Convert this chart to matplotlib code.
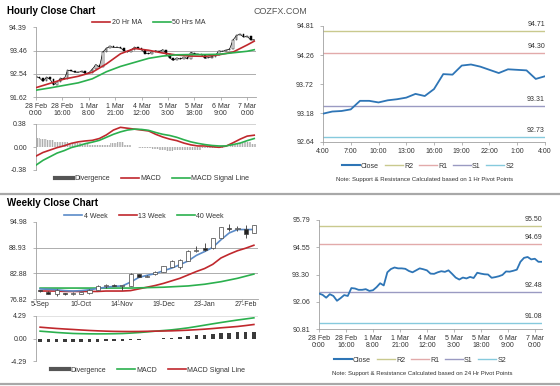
import numpy as np
import matplotlib
matplotlib.use('Agg')
import matplotlib.pyplot as plt
from matplotlib.lines import Line2D

plt.rcParams['font.family'] = ['Liberation Sans', 'DejaVu Sans']
plt.rcParams['hatch.linewidth'] = 0.5

# ---------------- data ----------------
hour_labels = ['28 Feb\n0:00', '28 Feb\n16:00', '1 Mar\n8:00', '1 Mar\n21:00', '4 Mar\n12:00',
               '5 Mar\n3:00', '5 Mar\n18:00', '6 Mar\n9:00', '7 Mar\n0:00']

# hourly closes, every 2nd bar (bar 0 .. 124)
close_bar = list(range(0, 125, 2))
close_h = [92.43, 92.37, 92.24, 92.40, 92.32, 92.10, 92.22, 92.36, 92.32, 92.68,
           92.66, 92.60, 92.60, 92.63, 92.55, 92.58, 92.72, 92.90, 92.80, 93.40,
           93.55, 93.62, 93.58, 93.58, 93.56, 93.46, 93.40, 93.49, 93.58, 93.54,
           93.49, 93.34, 93.33, 93.40, 93.45, 93.42, 93.49, 93.33, 93.16, 93.07,
           93.16, 93.12, 93.19, 93.14, 93.38, 93.34, 93.31, 93.30, 93.15, 93.18,
           93.22, 93.28, 93.44, 93.43, 93.47, 93.52, 93.88, 94.06, 94.10, 93.99,
           94.02, 93.88, 93.88]

ma_bar = [0, 8, 16, 24, 32, 40, 48, 56, 64, 72, 80, 88, 96, 104, 112, 120, 124]
ma20_h = [91.99, 92.16, 92.33, 92.44, 92.60, 92.93, 93.33, 93.54, 93.47, 93.36,
          93.28, 93.24, 93.23, 93.29, 93.40, 93.68, 93.83]
ma50_h = [91.89, 91.98, 92.08, 92.18, 92.34, 92.62, 92.83, 92.99, 93.15, 93.24,
          93.29, 93.30, 93.30, 93.31, 93.37, 93.43, 93.49]

macd_bar = list(range(0, 125, 4))
macd_h = [-0.15, -0.09, -0.05, -0.01, 0.02, 0.06, 0.085, 0.10, 0.11, 0.14,
          0.20, 0.28, 0.325, 0.31, 0.295, 0.28, 0.265, 0.21, 0.165, 0.13,
          0.105, 0.065, 0.035, 0.017, 0.017, 0.005, -0.005, 0.015, 0.07, 0.13,
          0.18, 0.195]
signal_h = [-0.30, -0.22, -0.16, -0.10, -0.06, -0.01, 0.02, 0.055, 0.08, 0.11,
            0.16, 0.21, 0.25, 0.28, 0.295, 0.29, 0.275, 0.24, 0.21, 0.19,
            0.16, 0.12, 0.085, 0.06, 0.04, 0.025, 0.017, 0.017, 0.04, 0.065,
            0.105, 0.14]

# 1 hour pivot chart
pivot_1h_ticks = ['4:00', '7:00', '10:00', '13:00', '16:00', '19:00', '22:00', '1:00', '4:00']
close_1h = [93.17, 93.21, 93.22, 93.25, 93.41, 93.41, 93.38, 93.42, 93.44, 93.47,
            93.54, 93.50, 93.63, 93.91, 93.90, 94.07, 94.09, 94.05, 93.99, 93.93,
            94.00, 93.99, 93.98, 93.82, 93.87]
level_names = ['R2', 'R1', 'S1', 'S2']
levels_1h = [94.71, 94.30, 93.31, 92.73]
levels_24h = [95.50, 94.69, 92.48, 91.08]

# weekly
week_labels = ['5-Sep', '10-Oct', '14-Nov', '19-Dec', '23-Jan', '27-Feb']
w_open = [78.9, 78.5, 77.9, 78.2, 77.9, 78.1, 78.2, 79.0, 79.9, 80.2, 79.9, 80.0, 82.7, 82.1,
          82.6, 83.2, 84.4, 84.3, 85.8, 88.2, 88.8, 88.8, 91.2, 93.6, 93.3, 93.4, 92.4]
w_close = [78.6, 78.1, 78.9, 77.9, 78.3, 78.4, 79.0, 80.0, 80.0, 80.0, 80.0, 82.8, 82.1, 82.3,
           83.3, 84.5, 85.8, 86.1, 88.2, 88.4, 88.4, 91.2, 93.7, 93.3, 93.4, 92.1, 94.2]
w_high = [79.0, 78.6, 79.2, 78.3, 78.4, 78.5, 79.1, 80.1, 80.3, 80.4, 80.2, 82.9, 82.8, 82.5,
          83.4, 84.6, 85.9, 86.2, 88.3, 89.3, 90.0, 91.3, 93.8, 94.4, 94.1, 94.2, 94.3]
w_low = [78.5, 77.9, 77.6, 77.7, 77.8, 78.0, 78.1, 78.9, 79.5, 79.9, 79.0, 79.9, 82.0, 82.0,
         82.5, 83.1, 84.3, 84.0, 85.7, 88.0, 88.2, 88.7, 91.1, 92.9, 92.8, 91.1, 92.3]
ma4_w = [79.2, 79.1, 79.0, 78.8, 78.7, 78.8, 79.0, 79.3, 79.6, 79.8, 79.9, 80.8, 81.9, 82.4,
         82.8, 83.5, 84.1, 84.9, 85.8, 87.1, 88.0, 89.0, 90.8, 92.4, 93.2, 93.2, 93.2]
ma13_w = [78.7, 78.7, 78.7, 78.6, 78.6, 78.6, 78.6, 78.6, 78.7, 78.7, 78.7, 78.8, 79.2, 79.6,
          80.0, 80.5, 81.1, 81.7, 82.5, 83.3, 84.0, 85.0, 86.5, 87.4, 88.2, 88.8, 89.5]
ma40_w = [79.4, 79.4, 79.4, 79.4, 79.4, 79.4, 79.4, 79.4, 79.4, 79.4, 79.4, 79.4, 79.45, 79.5,
          79.55, 79.6, 79.7, 79.8, 79.9, 80.1, 80.3, 80.6, 80.9, 81.3, 81.7, 82.2, 82.7]
macd_w = [1.40, 1.28, 1.15, 1.05, 0.96, 0.92, 0.89, 0.88, 0.89, 0.91, 0.95, 1.03, 1.13, 1.26,
          1.40, 1.52, 1.65, 1.83, 2.03, 2.28, 2.54, 2.80, 3.05, 3.29, 3.52, 3.73, 3.94]
signal_w = [2.16, 2.03, 1.91, 1.81, 1.72, 1.62, 1.53, 1.46, 1.40, 1.36, 1.34, 1.33, 1.34, 1.37,
            1.40, 1.43, 1.46, 1.52, 1.59, 1.68, 1.78, 1.90, 2.04, 2.16, 2.29, 2.47, 2.67]

# ---------------- styling ----------------
RED = '#c0282d'
GREEN = '#2bb04e'
BLUE = '#2e75b6'
LBLUE = '#5b8bc8'
level_colors = ['#c9c98e', '#e2aaaa', '#9a9ac2', '#86cadd']

W, H = 560, 386
fig = plt.figure(figsize=(W / 100, H / 100), dpi=100)


def px_axes(l, t, r, b):
    return fig.add_axes([l / W, 1 - b / H, (r - l) / W, (b - t) / H])


def style(ax, bottom=True):
    for s in ['top', 'right']:
        ax.spines[s].set_visible(False)
    ax.spines['left'].set_color('#a0a0a0')
    ax.spines['left'].set_linewidth(0.6)
    if bottom:
        ax.spines['bottom'].set_color('#a0a0a0')
        ax.spines['bottom'].set_linewidth(0.6)
    else:
        ax.spines['bottom'].set_visible(False)
    ax.tick_params(labelsize=5, length=2.5, width=0.5, color='#999999',
                   labelcolor='#333333', pad=1.5)
    ax.tick_params(axis='y', pad=4)


def legend(ax, handles, labels, cx, cy, spacing=1.6):
    ax.legend(handles, labels, loc='center', bbox_to_anchor=(cx / W, 1 - cy / H),
              bbox_transform=fig.transFigure, ncol=len(labels), frameon=False,
              fontsize=5, handlelength=2.6, handletextpad=0.2,
              columnspacing=spacing, borderpad=0, borderaxespad=0, labelcolor='#333333')


def fmt(v):
    return '%.2f' % v


# titles and separators
fig.text(7 / W, 1 - 11 / H, 'Hourly Close Chart', fontsize=7, fontweight='bold', va='center')
fig.text(7 / W, 1 - 203 / H, 'Weekly Close Chart', fontsize=7, fontweight='bold', va='center')
fig.text(280 / W, 1 - 11 / H, 'COZFX.COM', fontsize=6.5, color='#555555', ha='center', va='center')
for y in [193.5, 384]:
    fig.add_artist(Line2D([0, 1], [1 - y / H, 1 - y / H], color='#a8a8a8', lw=1.6,
                          transform=fig.transFigure))

# ---------- hourly price with candles ----------
ax = px_axes(36, 27, 256, 97)
style(ax)
c = np.array(close_h)
o = np.r_[c[0], c[:-1]]
up = c >= o
ax.plot(close_bar, close_h, color='black', lw=0.5, zorder=2)
ax.bar(close_bar, np.maximum(np.abs(c - o), 0.015), bottom=np.minimum(o, c), width=0.9,
       color=np.where(up, 'white', 'black'), edgecolor='black', linewidth=0.35, zorder=2)
ax.plot(ma_bar, ma20_h, color=RED, lw=1.2, zorder=3)
ax.plot(ma_bar, ma50_h, color=GREEN, lw=1.2, zorder=3)
yt = [91.62, 92.54, 93.46, 94.39]
for v in yt[1:-1]:
    ax.axhline(v, color='#a0a0a0', lw=0.6, zorder=1)
ax.set_ylim(yt[0], yt[-1])
ax.set_yticks(yt, [fmt(v) for v in yt])
ax.set_xlim(0, 125)
ax.set_xticks(range(0, 121, 15), hour_labels, linespacing=1.0)
legend(ax, [Line2D([], [], color=RED, lw=1.2), Line2D([], [], color=GREEN, lw=1.2)],
       ['20 Hr MA', '50 Hrs MA'], 149, 22.5)

# ---------- hourly MACD ----------
ax = px_axes(36, 124, 256, 170)
style(ax, bottom=False)
div_h = np.array(macd_h) - np.array(signal_h)
ax.bar(macd_bar, div_h, width=4, facecolor='none', edgecolor='#8a8a8a', linewidth=0,
       hatch='|' * 10, zorder=1)
ax.plot(macd_bar, macd_h, color=RED, lw=1.2, zorder=3)
ax.plot(macd_bar, signal_h, color=GREEN, lw=1.2, zorder=3)
for v in [-0.38, 0.38]:
    ax.axhline(v, color='#cccccc', lw=0.6, zorder=0)
ax.set_ylim(-0.38, 0.38)
ax.set_yticks([-0.38, 0, 0.38], ['-0.38', '0.00', '0.38'])
ax.set_xlim(0, 125)
ax.set_xticks([])
legend(ax, [Line2D([], [], color='#555555', lw=3), Line2D([], [], color=RED, lw=1.2),
            Line2D([], [], color=GREEN, lw=1.2)],
       ['Divergence', 'MACD', 'MACD Signal Line'], 152, 179)

# ---------- pivot chart helper ----------
def pivot(ax, x, close, levels, yticks, xticks, xlabels, xlim):
    style(ax)
    for v, col in zip(levels, level_colors):
        ax.axhline(v, color=col, lw=1.0, zorder=1)
        ax.annotate(fmt(v), xy=(1, v), xycoords=ax.get_yaxis_transform(),
                    xytext=(0, 2.5), textcoords='offset points', ha='right', va='bottom',
                    fontsize=5, color='#333333')
    ax.plot(x, close, color=BLUE, lw=1.3, zorder=3)
    ax.set_ylim(yticks[0], yticks[-1])
    ax.set_yticks(yticks, [fmt(v) for v in yticks])
    ax.set_xlim(*xlim)
    ax.set_xticks(xticks, xlabels, linespacing=1.0)
    handles = [Line2D([], [], color=BLUE, lw=1.5)] + \
              [Line2D([], [], color=col, lw=1.0) for col in level_colors]
    return handles, ['Close'] + level_names


ax = px_axes(323, 26, 545, 142)
hh, ll = pivot(ax, range(len(close_1h)), close_1h, levels_1h,
               [92.64, 93.18, 93.72, 94.26, 94.81], range(0, 25, 3), pivot_1h_ticks, (0, 24))
legend(ax, hh, ll, 428, 166, spacing=0.8)
fig.text(425 / W, 1 - 180 / H, 'Note: Support & Resistance Calculated based on 1 Hr Pivot Points',
         fontsize=4.3, ha='center', va='center', color='#333333')

ax = px_axes(319, 220, 542, 329)
hh, ll = pivot(ax, close_bar, close_h, levels_24h,
               [90.81, 92.06, 93.30, 94.55, 95.79], range(0, 121, 15), hour_labels, (0, 124))
legend(ax, hh, ll, 420, 360, spacing=0.8)
fig.text(422 / W, 1 - 374 / H, 'Note: Support & Resistance Calculated based on 24 Hr Pivot Points',
         fontsize=4.3, ha='center', va='center', color='#333333')

# ---------- weekly price ----------
ax = px_axes(36, 222, 258, 299)
style(ax)
wk = np.arange(len(w_close))
wo, wc = np.array(w_open), np.array(w_close)
ax.plot(wk, ma13_w, color=RED, lw=1.2, zorder=2)
ax.plot(wk, ma40_w, color=GREEN, lw=1.2, zorder=2)
ax.plot(wk, ma4_w, color=LBLUE, lw=1.2, zorder=2)
ax.vlines(wk, w_low, w_high, color='#333333', lw=0.6, zorder=3)
ax.bar(wk, np.maximum(np.abs(wc - wo), 0.15), bottom=np.minimum(wo, wc), width=0.5,
       color=np.where(wc >= wo, 'white', '#222222'), edgecolor='#444444', linewidth=0.5, zorder=4)
yt = [76.82, 82.88, 88.93, 94.98]
for v in yt[1:-1]:
    ax.axhline(v, color='#a0a0a0', lw=0.6, zorder=1)
ax.set_ylim(yt[0], yt[-1])
ax.set_yticks(yt, [fmt(v) for v in yt])
ax.set_xlim(-0.5, len(w_close) - 0.5)
ax.set_xticks(range(0, len(w_close), 5), week_labels)
ax.set_xticks(np.arange(-0.5, len(w_close), 5), minor=True)
ax.tick_params(axis='x', which='major', length=0)
ax.tick_params(axis='x', which='minor', length=2.5, width=0.5, color='#999999')
legend(ax, [Line2D([], [], color=LBLUE, lw=1.2), Line2D([], [], color=RED, lw=1.2),
            Line2D([], [], color=GREEN, lw=1.2)],
       ['4 Week', '13 Week', '40 Week'], 144, 216)

# ---------- weekly MACD ----------
ax = px_axes(36, 316, 258, 361)
style(ax, bottom=False)
div_w = np.array(macd_w) - np.array(signal_w)
ax.bar(wk, div_w, width=0.42, color='#3a3a3a', zorder=1)
ax.plot(wk, macd_w, color=GREEN, lw=1.2, zorder=3)
ax.plot(wk, signal_w, color=RED, lw=1.2, zorder=3)
for v in [-4.29, 4.29]:
    ax.axhline(v, color='#dddddd', lw=0.6, zorder=0)
ax.set_ylim(-4.29, 4.29)
ax.set_yticks([-4.29, 0, 4.29], ['-4.29', '0.00', '4.29'])
ax.set_xlim(-0.5, len(w_close) - 0.5)
ax.set_xticks([])
legend(ax, [Line2D([], [], color='#555555', lw=3), Line2D([], [], color=GREEN, lw=1.2),
            Line2D([], [], color=RED, lw=1.2)],
       ['Divergence', 'MACD', 'MACD Signal Line'], 148, 370)

fig.savefig('out.png', dpi=100, facecolor='white')
